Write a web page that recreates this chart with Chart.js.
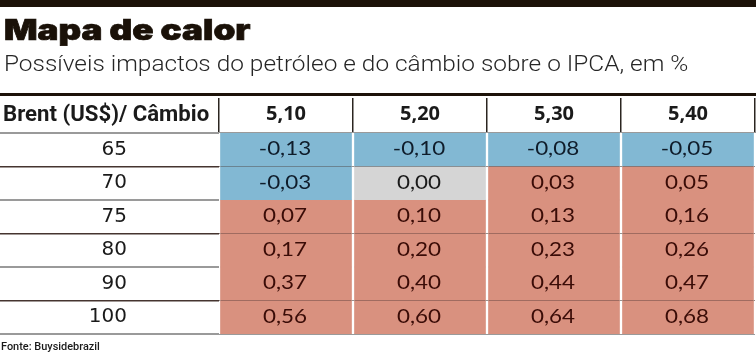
<!DOCTYPE html>
<html><head><meta charset="utf-8">
<script src="https://cdn.jsdelivr.net/npm/chart.js@4/dist/chart.umd.min.js"></script>
<style>
html,body{margin:0;padding:0;background:#fff;}
#wrap{position:relative;width:756px;height:355px;overflow:hidden;background:#fff;}
#topbar{position:absolute;left:0;top:0;width:756px;height:7px;background:#1c1209;}
#rule{position:absolute;left:0;top:93px;width:756px;height:3px;background:#1c1209;}
.fit{position:absolute;white-space:nowrap;transform-origin:0 0;margin:0;left:0;top:0;}
#title{color:#1a1108;-webkit-text-stroke:0.7px #1a1108;}
#subtitle{color:#262626;}
#corner{color:#1a1a1a;}
#source{color:#1a1a1a;}
canvas{position:absolute;left:0;top:0;}
</style>
</head>
<body>
<div id="wrap">
  <canvas id="c" width="756" height="355"></canvas>
  <div id="topbar"></div>
  <div id="rule"></div>
  <div class="fit" id="title" data-family="Inter" data-weight="900" data-x="3" data-w="246" data-cap="21" data-base="41">Mapa de calor</div>
  <div class="fit" id="subtitle" data-family="Roboto" data-weight="300" data-x="3" data-w="683" data-cap="15.5" data-base="71">Possíveis impactos do petróleo e do câmbio sobre o IPCA, em %</div>
  <div class="fit" id="corner" data-family="Roboto" data-weight="700" data-x="2" data-w="205" data-cap="15.5" data-base="121">Brent (US$)/ Câmbio</div>
  <div class="fit" id="source" data-family="Roboto" data-weight="500" data-x="1" data-w="99" data-cap="8.2" data-base="351">Fonte: Buysidebrazil</div>
</div>
<script>
// ---- data ----
const brentRows = ['65', '70', '75', '80', '90', '100'];
const cambioCols = ['5,10', '5,20', '5,30', '5,40'];
const impact510 = [-0.13, -0.03, 0.07, 0.17, 0.37, 0.56];
const impact520 = [-0.10, 0.00, 0.10, 0.20, 0.40, 0.60];
const impact530 = [-0.08, 0.03, 0.13, 0.23, 0.44, 0.64];
const impact540 = [-0.05, 0.05, 0.16, 0.26, 0.47, 0.68];
const impactCols = [impact510, impact520, impact530, impact540];

// ---- styles ----
const BLUE = '#82b8d3', RED = '#d9917f', GRAY = '#d5d5d5';
function fill(v){ return v < 0 ? BLUE : (v > 0 ? RED : GRAY); }
function ink(v){ return v < 0 ? '#0f1c2a' : (v > 0 ? '#3a0c07' : '#1a1a1a'); }
function fmt(v){ return v.toFixed(2).replace('.', ','); }

// place HTML text by cap height, baseline and visible width
(function placeTexts(){
  const mctx = document.createElement('canvas').getContext('2d');
  document.querySelectorAll('.fit').forEach(el => {
    const fam = el.dataset.family, wt = el.dataset.weight;
    mctx.font = wt + ' 100px "' + fam + '"';
    const capRatio = mctx.measureText('H').actualBoundingBoxAscent / 100;
    const size = (+el.dataset.cap) / capRatio;
    mctx.font = wt + ' ' + size + 'px "' + fam + '"';
    const m = mctx.measureText(el.textContent);
    const fa = m.fontBoundingBoxAscent, fd = m.fontBoundingBoxDescent;
    const vis = m.actualBoundingBoxRight + m.actualBoundingBoxLeft;
    const s = (+el.dataset.w) / vis;
    el.style.fontFamily = '"' + fam + '"';
    el.style.fontWeight = wt;
    el.style.fontSize = size + 'px';
    el.style.lineHeight = size + 'px';
    const baseOff = (size - (fa + fd)) / 2 + fa;
    el.style.top = ((+el.dataset.base) - baseOff) + 'px';
    el.style.left = ((+el.dataset.x) - m.actualBoundingBoxLeft * s) + 'px';
    el.style.transform = 'scaleX(' + s + ')';
  });
})();

const cellText = {
  id: 'cellText',
  afterDatasetsDraw(chart){
    const ctx = chart.ctx;
    chart.data.datasets.forEach((ds, j) => {
      chart.getDatasetMeta(j).data.forEach((bar, i) => {
        const v = ds.data[i].v;
        const p = bar.getCenterPoint();
        ctx.save();
        ctx.translate(p.x - 1, p.y - 1);
        ctx.scale(1.12, 1);
        ctx.font = '20px Lato';
        ctx.textAlign = 'center';
        ctx.textBaseline = 'middle';
        ctx.fillStyle = ink(v);
        ctx.fillText(fmt(v), 0, 0);
        ctx.restore();
      });
    });
  }
};

new Chart(document.getElementById('c'), {
  type: 'bar',
  data: {
    labels: brentRows,
    datasets: impactCols.map((vals, j) => ({
      label: cambioCols[j],
      data: vals.map((v, i) => ({ y: brentRows[i], x: [j, j + 1], v: v })),
      backgroundColor: c => fill(c.raw.v),
      borderColor: '#ffffff',
      borderWidth: { left: 1.5, right: 1.5, top: 0, bottom: 0 },
      borderSkipped: false,
      grouped: false,
      barPercentage: 1,
      categoryPercentage: 1
    }))
  },
  options: {
    indexAxis: 'y',
    responsive: false,
    animation: false,
    layout: { padding: { top: 97, left: 0, right: 1, bottom: 21 } },
    plugins: { legend: { display: false }, tooltip: { enabled: false } },
    scales: {
      x: { type: 'linear', min: 0, max: cambioCols.length, display: false },
      xTop: {
        type: 'category', labels: cambioCols, position: 'top', offset: true,
        border: { display: false },
        grid: { offset: true, drawOnChartArea: false, drawTicks: true, tickLength: 35, lineWidth: 1.5,
          color: c => c.index >= cambioCols.length ? 'rgba(0,0,0,0)' : '#2b2520' },
        ticks: { font: { family: 'Open Sans', weight: 'bold', size: 20 }, color: '#1a1a1a', padding: -28, maxRotation: 0, autoSkip: false },
        afterFit: s => { s.height = 36; }
      },
      y: {
        type: 'category', position: 'left', offset: true, z: 1,
        border: { display: false },
        grid: { offset: true, drawOnChartArea: true, drawTicks: true, tickLength: 219,
          lineWidth: c => c.index % 2 ? 1.5 : 2,
          color: c => c.index % 2 ? '#45342f' : '#9a9a9a' },
        ticks: { font: { family: 'DejaVu Sans', size: 20 }, color: '#1a1a1a', padding: -127, crossAlign: 'near', autoSkip: false },
        afterFit: s => { s.width = 219; }
      }
    }
  },
  plugins: [cellText]
});
</script>
</body></html>
